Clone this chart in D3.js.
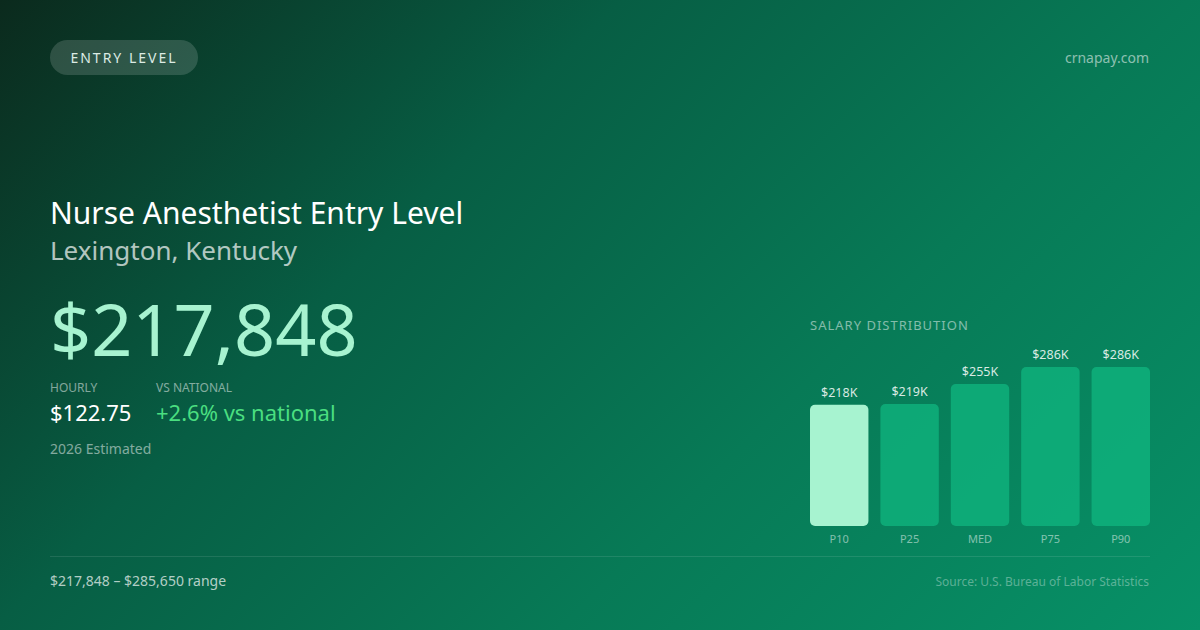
<!DOCTYPE html>
<html>
<head>
<meta charset="utf-8">
<script src="https://cdn.jsdelivr.net/npm/d3@7"></script>
<style>
  html, body { margin: 0; padding: 0; background: #0b2a1d; }
  svg { display: block; font-family: "Noto Sans", "Open Sans", sans-serif; }
</style>
</head>
<body>
<div id="card"></div>
<script>
// Salary card: entry level nurse anesthetist, Lexington KY

const percentiles = ["P10", "P25", "MED", "P75", "P90"];
const salaries = [217848, 219000, 255000, 285600, 285650];
const barLabels = ["$218K", "$219K", "$255K", "$286K", "$286K"];

const headline = "$217,848";
const hourly = "$122.75";
const vsNational = "+2.6% vs national";
const rangeText = "$217,848 \u2013 $285,650 range";

(function() {
    const width = 1200, height = 630;

    const svg = d3.select("#card")
        .append("svg")
        .attr("width", width)
        .attr("height", height);

    // Background gradient
    const defs = svg.append("defs");
    const grad = defs.append("linearGradient")
        .attr("id", "bg")
        .attr("gradientUnits", "userSpaceOnUse")
        .attr("x1", 0).attr("y1", 0)
        .attr("x2", 915).attr("y2", 915);
    grad.append("stop").attr("offset", 0).attr("stop-color", "#0b2a1d");
    grad.append("stop").attr("offset", 0.34).attr("stop-color", "#075e44");
    grad.append("stop").attr("offset", 0.65).attr("stop-color", "#077a56");
    grad.append("stop").attr("offset", 1).attr("stop-color", "#079167");

    svg.append("rect")
        .attr("width", width)
        .attr("height", height)
        .attr("fill", "url(#bg)");

    // Pill badge
    svg.append("rect")
        .attr("x", 50).attr("y", 40)
        .attr("width", 148).attr("height", 35)
        .attr("rx", 17.5)
        .attr("fill", "rgba(255,255,255,0.15)");

    svg.append("text")
        .attr("x", 124).attr("y", 63)
        .attr("text-anchor", "middle")
        .attr("font-size", 14)
        .attr("letter-spacing", 2)
        .attr("fill", "#dcebe4")
        .text("ENTRY LEVEL");

    svg.append("text")
        .attr("x", 1149).attr("y", 63)
        .attr("text-anchor", "end")
        .attr("font-size", 14)
        .attr("fill", "rgba(255,255,255,0.55)")
        .text("crnapay.com");

    // Titles
    svg.append("text")
        .attr("x", 50).attr("y", 224)
        .attr("font-size", 30)
        .attr("fill", "#ffffff")
        .text("Nurse Anesthetist Entry Level");

    svg.append("text")
        .attr("x", 50).attr("y", 260)
        .attr("font-size", 26)
        .attr("fill", "rgba(255,255,255,0.7)")
        .text("Lexington, Kentucky");

    // Headline figure
    svg.append("text")
        .attr("x", 50).attr("y", 356)
        .attr("font-size", 72)
        .attr("fill", "#a7f3d0")
        .text(headline);

    // Stats
    svg.append("text")
        .attr("x", 50).attr("y", 392)
        .attr("font-size", 12)
        .attr("fill", "rgba(255,255,255,0.5)")
        .text("HOURLY");

    svg.append("text")
        .attr("x", 156).attr("y", 392)
        .attr("font-size", 12)
        .attr("fill", "rgba(255,255,255,0.5)")
        .text("VS NATIONAL");

    svg.append("text")
        .attr("x", 50).attr("y", 421)
        .attr("font-size", 22)
        .attr("fill", "#ffffff")
        .text(hourly);

    svg.append("text")
        .attr("x", 156).attr("y", 421)
        .attr("font-size", 22)
        .attr("fill", "#4ade80")
        .text(vsNational);

    svg.append("text")
        .attr("x", 50).attr("y", 454)
        .attr("font-size", 14)
        .attr("fill", "rgba(255,255,255,0.5)")
        .text("2026 Estimated");

    // Footer
    svg.append("line")
        .attr("x1", 50).attr("x2", 1150)
        .attr("y1", 556.5).attr("y2", 556.5)
        .attr("stroke", "rgba(255,255,255,0.1)");

    svg.append("text")
        .attr("x", 50).attr("y", 586)
        .attr("font-size", 14)
        .attr("fill", "rgba(255,255,255,0.7)")
        .text(rangeText);

    svg.append("text")
        .attr("x", 1149).attr("y", 586)
        .attr("text-anchor", "end")
        .attr("font-size", 12)
        .attr("fill", "rgba(255,255,255,0.35)")
        .text("Source: U.S. Bureau of Labor Statistics");

    // Distribution chart
    svg.append("text")
        .attr("x", 810).attr("y", 330)
        .attr("font-size", 13)
        .attr("letter-spacing", 1)
        .attr("fill", "rgba(255,255,255,0.5)")
        .text("SALARY DISTRIBUTION");

    const x = d3.scaleBand()
        .domain(percentiles)
        .range([810, 1150])
        .paddingInner(0.17);

    const y = d3.scaleLinear()
        .domain([0, d3.max(salaries)])
        .range([526, 367]);

    const data = percentiles.map((p, i) => ({p, v: salaries[i], label: barLabels[i]}));

    svg.selectAll("rect.bar")
        .data(data)
        .enter()
        .append("rect")
        .attr("class", "bar")
        .attr("x", d => x(d.p))
        .attr("y", d => y(d.v))
        .attr("width", x.bandwidth())
        .attr("height", d => y(0) - y(d.v))
        .attr("rx", 5)
        .attr("fill", (d, i) => i === 0 ? "#a7f3d0" : "#10b981")
        .attr("fill-opacity", (d, i) => i === 0 ? 1 : 0.72);

    svg.selectAll("text.val")
        .data(data)
        .enter()
        .append("text")
        .attr("class", "val")
        .attr("x", d => x(d.p) + x.bandwidth() / 2)
        .attr("y", d => y(d.v) - 8)
        .attr("text-anchor", "middle")
        .attr("font-size", 12.5)
        .attr("fill", "rgba(255,255,255,0.85)")
        .text(d => d.label);

    svg.selectAll("text.cat")
        .data(data)
        .enter()
        .append("text")
        .attr("class", "cat")
        .attr("x", d => x(d.p) + x.bandwidth() / 2)
        .attr("y", 543)
        .attr("text-anchor", "middle")
        .attr("font-size", 11)
        .attr("fill", "rgba(255,255,255,0.5)")
        .text(d => d.p);
})();
</script>
</body>
</html>
